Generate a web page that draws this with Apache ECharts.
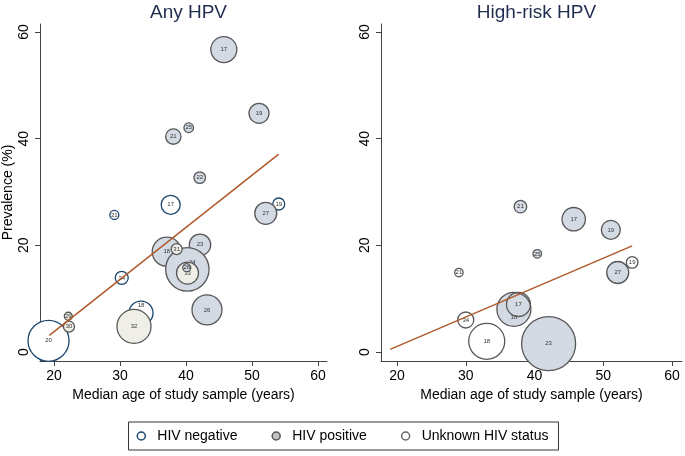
<!DOCTYPE html>
<html>
<head>
<meta charset="utf-8">
<script src="https://cdn.jsdelivr.net/npm/echarts@6/dist/echarts.min.js"></script>
<style>
html,body{margin:0;padding:0;background:#fff;}
#chart{width:685px;height:456px;}
</style>
</head>
<body>
<div id="chart"></div>
<script>
// ---------- DATA ----------
const xTicks = [20, 30, 40, 50, 60];
const yTicks = [0, 20, 40, 60];
const panelTitles = ['Any HPV', 'High-risk HPV'];
const legendNames = ['HIV negative', 'HIV positive', 'Unknown HIV status'];

// Any HPV — HIV negative
const negX_L = [19.17, 33.18, 30.26, 29.14, 37.68, 54.05];
const negY_L = [2.1, 7.3, 13.9, 25.7, 27.6, 27.75];
const negN_L = [1681, 576, 169, 81, 361, 144];
const negLab_L = ['20', '18', '34', '21', '17', '19'];

// Any HPV — HIV positive
const posX_L = [45.73, 51.06, 40.41, 38.08, 42.08, 52.08, 42.12, 37.08, 40.2, 43.18];
const posY_L = [56.7, 44.75, 42.05, 40.4, 32.7, 26.0, 20.1, 18.8, 15.5, 7.9];
const posN_L = [676, 400, 92, 237, 135, 484, 458, 841, 1884, 900];
const posLab_L = ['17', '19', '25', '21', '22', '27', '23', '18', '24', '26'];
// Any HPV — HIV positive study drawn on top
const pos2X_L = [40.11];
const pos2Y_L = [15.8];
const pos2N_L = [64];
const pos2Lab_L = ['28'];

// Any HPV — unknown HIV status
const unkX_L = [38.59, 40.23, 22.17, 22.27, 32.12];
const unkY_L = [19.3, 14.8, 6.7, 4.75, 4.8];
const unkN_L = [121, 484, 64, 121, 1156];
const unkLab_L = ['31', '33', '29', '30', '32'];

// Any HPV — fitted line
const fitX_L = [19.29, 54.05];
const fitY_L = [3.1, 37.1];

// High-risk HPV — HIV positive
const posX_R = [37.95, 45.7, 51.1, 40.4, 52.1, 37.0, 42.05];
const posY_R = [27.25, 24.9, 22.9, 18.4, 14.9, 8.0, 1.56];
const posN_R = [159, 548, 361, 74, 484, 1156, 2916];
const posLab_R = ['21', '17', '19', '25', '27', '18', '23'];

// High-risk HPV — unknown HIV status
const unkX_R = [29.0, 54.2, 37.66, 30.0, 33.05];
const unkY_R = [14.9, 16.8, 8.9, 6.0, 2.0];
const unkN_R = [71, 135, 576, 256, 1296];
const unkLab_R = ['21', '19', '17', '34', '18'];

// High-risk HPV — fitted line
const fitX_R = [19.0, 54.2];
const fitY_R = [0.5, 19.9];

// ---------- STYLE ----------
const FONT = '"Liberation Sans", Arial, sans-serif';
const NEG_STROKE = '#1a476f';
const GRAY_STROKE = '#585858';
const POS_FILL = '#d4dae3';
const FIT_COLOR = '#b0592a';
// label nudges (style only), keyed by panel|label
const labelNudge = {'L|24': [5, -7], 'L|18n': [0, -8], 'R|18p': [0, 8]};

function items(xs, ys, ns, labs, panel, kind) {
  return xs.map((x, i) => {
    const it = {value: [x, ys[i], ns[i]], name: labs[i]};
    const key1 = panel + '|' + labs[i];
    const key2 = panel + '|' + labs[i] + kind;
    const off = labelNudge[key2] || labelNudge[key1];
    if (off) it.label = {offset: off};
    return it;
  });
}
function line(xs, ys) { return xs.map((x, i) => [x, ys[i]]); }

const bubbleLabel = {show: true, position: 'inside', formatter: '{b}', fontSize: 6, color: '#333', fontFamily: FONT};

function scatter(name, gi, data, fill, stroke, z) {
  return {
    name: name, type: 'scatter', xAxisIndex: gi, yAxisIndex: gi, z: z,
    clip: false, data: data,
    symbolSize: v => Math.sqrt(v[2]),
    itemStyle: {color: fill, borderColor: stroke, borderWidth: 1.3, opacity: 1},
    label: bubbleLabel,
    emphasis: {disabled: true},
    silent: true
  };
}
function fitSeries(gi, data) {
  return {
    name: 'fit' + gi, type: 'line', xAxisIndex: gi, yAxisIndex: gi, z: 6,
    data: data, showSymbol: false, symbol: 'none',
    lineStyle: {color: FIT_COLOR, width: 1.5}, silent: true
  };
}

const grids = [
  {left: 40, top: 24, width: 287, height: 337},
  {left: 381, top: 24, width: 301, height: 337}
];
const xRanges = [[17.88, 61.36], [17.67, 61.45]];

function xAxis(gi) {
  return {
    type: 'value', gridIndex: gi, min: xRanges[gi][0], max: xRanges[gi][1],
    name: 'Median age of study sample (years)', nameLocation: 'middle', nameGap: 22,
    nameTextStyle: {fontSize: 14, color: '#000', fontFamily: FONT},
    axisLine: {show: true, onZero: false, lineStyle: {color: '#444', width: 1}},
    axisTick: {show: true, length: 5, customValues: xTicks, lineStyle: {color: '#444'}},
    axisLabel: {customValues: xTicks, fontSize: 14, color: '#000', fontFamily: FONT, margin: 8},
    splitLine: {show: false}
  };
}
function yAxis(gi) {
  const a = {
    type: 'value', gridIndex: gi, min: -1.69, max: 61.5,
    axisLine: {show: true, onZero: false, lineStyle: {color: '#444', width: 1}},
    axisTick: {show: true, length: 5, customValues: yTicks, lineStyle: {color: '#444'}},
    axisLabel: {customValues: yTicks, rotate: 90, fontSize: 14, color: '#000', fontFamily: FONT, margin: 9},
    splitLine: {show: false}
  };
  if (gi === 0) {
    a.name = 'Prevalence (%)';
    a.nameLocation = 'middle';
    a.nameGap = 25;
    a.nameTextStyle = {fontSize: 14, color: '#000', fontFamily: FONT};
  }
  return a;
}

const chart = echarts.init(document.getElementById('chart'), null, {renderer: 'canvas'});
chart.setOption({
  backgroundColor: '#fff',
  animation: false,
  title: panelTitles.map((t, i) => ({
    text: t,
    left: grids[i].left + grids[i].width / 2,
    textAlign: 'center',
    top: -2,
    textStyle: {fontSize: 19, fontWeight: 'normal', color: '#1f2d4f', fontFamily: FONT}
  })),
  legend: {
    left: 'center', top: 422, orient: 'horizontal',
    padding: [7, 10, 7, 8], itemGap: 34, itemWidth: 8, itemHeight: 8,
    borderColor: '#333', borderWidth: 1, backgroundColor: '#fff',
    selectedMode: false,
    textStyle: {fontSize: 14, color: '#000', fontFamily: FONT, padding: [0, 0, 0, 7]},
    data: [
      {name: legendNames[0], icon: 'circle', itemStyle: {color: '#fff', borderColor: NEG_STROKE, borderWidth: 1.5}},
      {name: legendNames[1], icon: 'circle', itemStyle: {color: '#c4c4c4', borderColor: '#555', borderWidth: 1.5}},
      {name: legendNames[2], icon: 'circle', itemStyle: {color: '#fff', borderColor: '#666', borderWidth: 1.5}}
    ]
  },
  grid: grids,
  xAxis: [xAxis(0), xAxis(1)],
  yAxis: [yAxis(0), yAxis(1)],
  series: [
    scatter(legendNames[0], 0, items(negX_L, negY_L, negN_L, negLab_L, 'L', 'n'), '#fff', NEG_STROKE, 2),
    scatter(legendNames[1], 0, items(posX_L, posY_L, posN_L, posLab_L, 'L', 'p'), POS_FILL, GRAY_STROKE, 3),
    scatter(legendNames[2], 0, items(unkX_L, unkY_L, unkN_L, unkLab_L, 'L', 'u'), '#efefe7', GRAY_STROKE, 4),
    scatter(legendNames[1], 0, items(pos2X_L, pos2Y_L, pos2N_L, pos2Lab_L, 'L', 'p'), POS_FILL, GRAY_STROKE, 5),
    fitSeries(0, line(fitX_L, fitY_L)),
    scatter(legendNames[1], 1, items(posX_R, posY_R, posN_R, posLab_R, 'R', 'p'), POS_FILL, GRAY_STROKE, 3),
    scatter(legendNames[2], 1, items(unkX_R, unkY_R, unkN_R, unkLab_R, 'R', 'u'), 'rgba(255,255,255,0)', GRAY_STROKE, 4),
    fitSeries(1, line(fitX_R, fitY_R))
  ]
});
</script>
</body>
</html>
